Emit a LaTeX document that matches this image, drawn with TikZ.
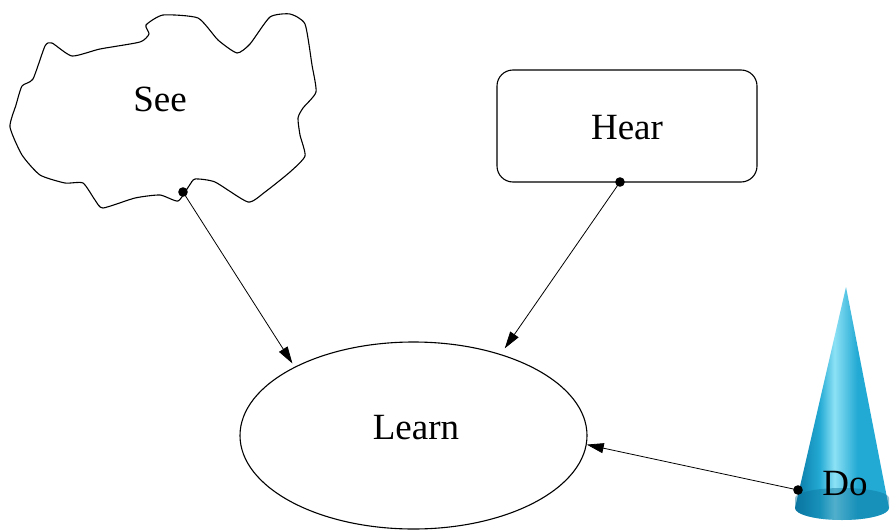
\documentclass[tikz,border=0pt]{standalone}
\usepackage{fontspec}
\setmainfont{Liberation Serif}
\usetikzlibrary{arrows.meta,shapes.geometric}
\definecolor{conedark}{RGB}{10,120,165}
\definecolor{conemid}{RGB}{35,170,212}
\definecolor{conelight}{RGB}{140,225,245}
\definecolor{conebase}{RGB}{10,115,155}
% side-lit cone: dark left rim, bright band left of centre, mid-tone right
\pgfdeclarehorizontalshading{coneside}{100bp}{
  color(0bp)=(conedark); color(25bp)=(conedark); color(38bp)=(conemid);
  color(46bp)=(conelight); color(58bp)=(conemid); color(75bp)=(conemid);
  color(100bp)=(conemid)}
\tikzset{
  lbl/.style={font=\fontsize{37}{40}\selectfont, inner sep=0pt},
  outline/.style={draw=black, line width=1.1pt},
  link/.style={draw=black, line width=0.8pt, -{Triangle[length=17pt,width=10pt]}},
  tail/.style={fill=black, radius=4.8pt},
}
\begin{document}
\begin{tikzpicture}[x=1pt,y=-1pt]
  \useasboundingbox[fill=white] (0,0) rectangle (891,530);

  % cloud around "See"
  \draw[outline, line join=round] plot[smooth cycle, tension=0.35] coordinates {
    (10,127) (16,105) (22,86) (33,79) (45,46) (52,43) (72,56) (100,49)
    (140,42) (149,34) (146,25) (163,15) (198,18) (218,40) (237,53) (250,44)
    (270,17) (290,14) (305,24) (312,65) (316,92) (303,108) (298,118) (300,135)
    (305,156) (290,172) (265,192) (248,202) (215,182) (195,179) (189,186)
    (178,201) (160,195) (135,198) (103,208) (95,200) (83,183) (65,183)
    (40,175) (22,155)};
  \node[lbl] (see) at (160,99) {See};
  \coordinate (seeport) at (183,192);

  % rounded box
  \node[outline, rounded corners=16pt, minimum width=260pt, minimum height=112pt,
        inner sep=0pt] (hearbox) at (627,126) {};
  \node[lbl] (hear) at (627,128) {Hear};
  \coordinate (hearport) at (620,182);

  % ellipse
  \node[outline, ellipse, minimum width=347pt, minimum height=187pt, inner sep=0pt]
        (learnbox) at (413.5,435.5) {};
  \node[lbl] (learn) at (416,428) {Learn};

  % cone
  \shade[shading=coneside]
    (846,287) -- (795,508) arc[start angle=180, end angle=360, x radius=47pt, y radius=12pt] -- cycle;
  \fill[conebase, opacity=0.45] (795,508) arc[start angle=180, end angle=360, x radius=47pt, y radius=12pt]
    -- (889,498) arc[start angle=0, end angle=180, x radius=47pt, y radius=10pt] -- cycle;
  \node[lbl] (do) at (845,484) {Do};
  \coordinate (doport) at (798,490);

  % connectors
  \draw[link, shorten >=4pt] (seeport) -- (learnbox.150);
  \draw[link, shorten >=7pt] (hearport) -- (learnbox.43);
  \draw[link] (doport) -- (learnbox.357.5);
  \fill[tail] (seeport) circle;
  \fill[tail] (hearport) circle;
  \fill[tail] (doport) circle;
\end{tikzpicture}
\end{document}
